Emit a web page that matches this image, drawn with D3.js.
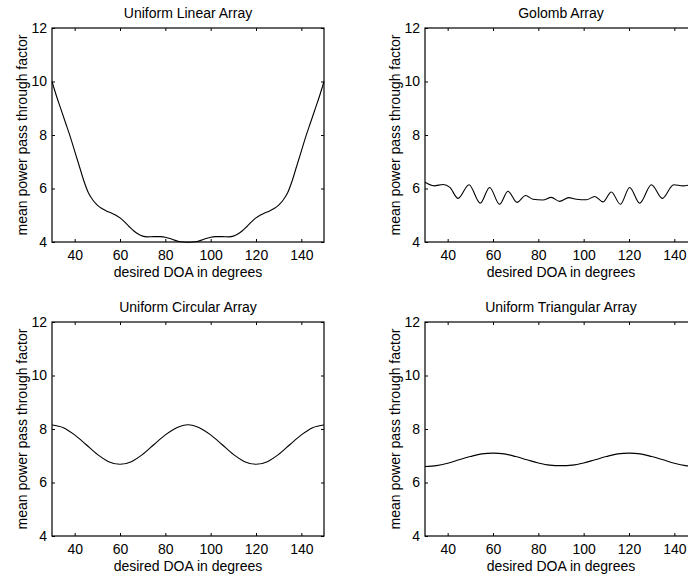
<!DOCTYPE html>
<html>
<head>
<meta charset="utf-8">
<script src="https://cdn.jsdelivr.net/npm/d3@7"></script>
<style>
  body { margin: 0; background: #fff; }
  svg text { font-family: "Liberation Sans", Arial, Helvetica, sans-serif; fill: #000; }
</style>
</head>
<body>
<svg id="chart" width="688" height="580"></svg>
<script>
'use strict';

var xTicks = [40, 60, 80, 100, 120, 140];
var yTicks = [4, 6, 8, 10, 12];
var xLabel = "desired DOA in degrees";
var yLabel = "mean power pass through factor";

// Uniform Linear Array
var ulaDoa = [30, 32, 34, 36, 38, 40, 42, 44, 46, 48, 50, 52, 54, 56, 58, 60, 62, 64, 66, 68, 70, 72, 75, 78, 80, 82, 84, 86, 88, 90,
  92, 94, 96, 98, 100, 102, 105, 108, 110, 112, 114, 116, 118, 120, 122, 124, 126, 128, 130, 132, 134, 136, 138, 140, 142, 144, 146, 148, 150];
var ulaPower = [10.0, 9.45, 8.95, 8.45, 7.95, 7.4, 6.85, 6.3, 5.85, 5.57, 5.38, 5.25, 5.16, 5.09, 5.01, 4.9, 4.75, 4.58, 4.42, 4.3, 4.22, 4.19, 4.2, 4.2, 4.18, 4.13, 4.07, 4.02, 4.0, 3.99,
  4.0, 4.02, 4.07, 4.13, 4.18, 4.2, 4.2, 4.19, 4.22, 4.3, 4.42, 4.58, 4.75, 4.9, 5.01, 5.09, 5.16, 5.25, 5.38, 5.57, 5.85, 6.3, 6.85, 7.4, 7.95, 8.45, 8.95, 9.45, 10.0];

// Golomb Array
var golombDoa = [30, 34, 38, 41, 44.6, 49.4, 54.4, 58.5, 62.9, 66.6, 70.6, 74.4, 77.6, 82, 85.7, 89.4, 93.4, 96.8, 101.2, 104.9,
  108.5, 112.2, 116.2, 120.3, 124.7, 129.9, 134.7, 139.7, 143.8, 146.5, 150];
var golombPower = [6.23, 6.1, 6.15, 6.04, 5.63, 6.14, 5.45, 6.04, 5.41, 5.9, 5.48, 5.74, 5.6, 5.57, 5.67, 5.52, 5.66, 5.6, 5.58, 5.7,
  5.5, 5.87, 5.41, 6.04, 5.45, 6.14, 5.63, 6.14, 6.1, 6.13, 6.23];

// Uniform Circular Array
var ucaDoa = [30, 35, 40, 45, 50, 55, 60, 65, 70, 75, 80, 85, 90, 95, 100, 105, 110, 115, 120, 125, 130, 135, 140, 145, 150];
var ucaPower = [8.15, 8.05, 7.78, 7.42, 7.05, 6.78, 6.68, 6.78, 7.05, 7.42, 7.78, 8.05, 8.16, 8.05, 7.78, 7.42, 7.05, 6.78, 6.68, 6.78, 7.05, 7.42, 7.78, 8.05, 8.15];

// Uniform Triangular Array
var utaDoa = [30, 35, 40, 45, 50, 55, 60, 65, 70, 75, 80, 85, 90, 95, 100, 105, 110, 115, 120, 125, 130, 135, 140, 145, 150];
var utaPower = [6.6, 6.63, 6.72, 6.85, 6.97, 7.07, 7.1, 7.07, 6.97, 6.85, 6.73, 6.65, 6.63, 6.65, 6.73, 6.85, 6.97, 7.07, 7.1, 7.07, 6.97, 6.85, 6.72, 6.63, 6.6];

var titles = ["Uniform Linear Array", "Golomb Array", "Uniform Circular Array", "Uniform Triangular Array"];

var panels = [
  { title: titles[0], doa: ulaDoa, power: ulaPower, left: 52, top: 28 },
  { title: titles[1], doa: golombDoa, power: golombPower, left: 425, top: 28 },
  { title: titles[2], doa: ucaDoa, power: ucaPower, left: 52, top: 322 },
  { title: titles[3], doa: utaDoa, power: utaPower, left: 425, top: 322 }
];

var width = 272,
  height = 214,
  tickLen = 3;

var svg = d3.select("#chart");

var x = d3.scaleLinear().domain([30, 150]).range([0, width]);
var y = d3.scaleLinear().domain([4, 12]).range([height, 0]);

var line = d3.line()
  .x(function(d) { return x(d[0]); })
  .y(function(d) { return y(d[1]); })
  .curve(d3.curveMonotoneX);

panels.forEach(function(p) {
  var g = svg.append("g").attr("transform", "translate(" + p.left + "," + p.top + ")");

  // ticks inside the box, all four sides (matlab style)
  var bottom = g.append("g").attr("transform", "translate(0," + height + ")")
    .call(d3.axisBottom(x).tickValues(xTicks).tickSizeInner(-tickLen).tickSizeOuter(0).tickPadding(8));
  var top = g.append("g")
    .call(d3.axisTop(x).tickValues(xTicks).tickSizeInner(-tickLen).tickSizeOuter(0).tickFormat(""));
  var left = g.append("g")
    .call(d3.axisLeft(y).tickValues(yTicks).tickSizeInner(-tickLen).tickSizeOuter(0).tickPadding(5));
  var right = g.append("g").attr("transform", "translate(" + width + ",0)")
    .call(d3.axisRight(y).tickValues(yTicks).tickSizeInner(-tickLen).tickSizeOuter(0).tickFormat(""));

  [bottom, top, left, right].forEach(function(a) {
    a.select(".domain").remove();
    a.selectAll("line").attr("stroke", "#000");
    a.selectAll("text").style("font-size", "14px");
  });

  g.append("rect")
    .attr("width", width)
    .attr("height", height)
    .attr("fill", "none")
    .attr("stroke", "#000")
    .attr("stroke-width", 1.2);

  g.append("path")
    .datum(p.doa.map(function(d, i) { return [d, p.power[i]]; }))
    .attr("d", line)
    .attr("fill", "none")
    .attr("stroke", "#000")
    .attr("stroke-width", 1.1);

  g.append("text")
    .attr("x", width / 2)
    .attr("y", -10)
    .attr("text-anchor", "middle")
    .style("font-size", "14px")
    .text(p.title);

  g.append("text")
    .attr("x", width / 2)
    .attr("y", height + 35)
    .attr("text-anchor", "middle")
    .style("font-size", "14px")
    .text(xLabel);

  g.append("text")
    .attr("transform", "translate(-25," + (height / 2) + ") rotate(-90)")
    .attr("text-anchor", "middle")
    .style("font-size", "14px")
    .text(yLabel);
});
</script>
</body>
</html>
